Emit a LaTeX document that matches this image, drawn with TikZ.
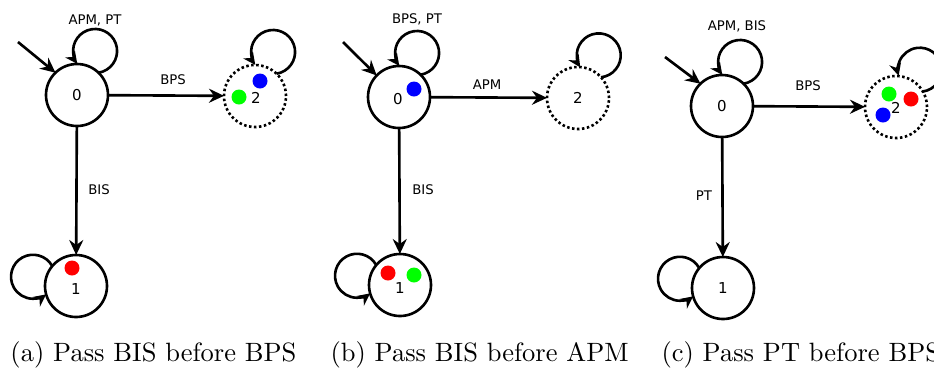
\documentclass[tikz,border=0pt]{standalone}
\usepackage{fontspec}
\newfontfamily\lblfont{DejaVu Sans}
\usetikzlibrary{arrows.meta}
\begin{document}
\begin{tikzpicture}[x=0.4pt,y=0.4pt,
  state/.style={circle,draw,line width=1.05pt,minimum size=24.8pt,inner sep=0pt,outer sep=0pt,font=\lblfont\fontsize{6}{7}\selectfont},
  ghost/.style={state,dash pattern=on 1pt off 1pt},
  edge/.style={line width=1.05pt,-{Stealth[length=6pt,width=5.6pt,inset=2pt]}},
  selfloop/.style={line width=1.05pt,-{Stealth[length=5pt,width=4.8pt,inset=1.7pt]}},
  lbl/.style={font=\lblfont\fontsize{5.3}{6}\selectfont,inner sep=0pt},
  tok/.style={circle,fill=#1,minimum size=6pt,inner sep=0pt,outer sep=0pt},
  captext/.style={anchor=base west,inner sep=0pt,font=\fontsize{10.6}{12.7}\selectfont}]
\definecolor{tokred}{RGB}{255,0,0}
\definecolor{tokgreen}{RGB}{0,255,0}
\definecolor{tokblue}{RGB}{0,0,255}
\useasboundingbox (0,0) rectangle (934,-369);

% ---------------- (a) ----------------
\node[state] (a0) at (77,-95) {0};
\node[ghost] (a2) at (255,-96) {};
\node[state] (a1) at (76,-286) {};
\node[lbl] (a2n) at (256,-98) {\fontsize{6}{7}\selectfont 2};
\node[lbl] (a1n) at (76,-289) {\fontsize{6}{7}\selectfont 1};
\node[tok=tokgreen] (a2g) at (239,-97) {};
\node[tok=tokblue] (a2b) at (260,-81) {};
\node[tok=tokred] (a1r) at (72,-268) {};
\coordinate (a0s) at (18,-42);
\draw[edge] (a0s) -- (a0.134);
\draw[selfloop] (a0.46) arc[start angle=-81,end angle=216,radius=22];
\draw[selfloop] (a2.46) arc[start angle=-81,end angle=216,radius=22];
\draw[selfloop] (a1.140) arc[start angle=29,end angle=307,radius=22];
\draw[edge] (a0) -- (a2);
\draw[edge] (a0) -- (a1);
\node[lbl] (la0) at (95,-20) {APM, PT};
\node[lbl] (la02) at (173,-80) {BPS};
\node[lbl] (la01) at (99,-190) {BIS};
\node[captext] (capa) at (10,-361) {(a) Pass BIS before BPS};

% ---------------- (b) ----------------
\node[state] (b0) at (399,-97) {};
\node[ghost] (b2) at (578,-98) {2};
\node[state] (b1) at (400,-285) {};
\node[lbl] (b0n) at (398,-99) {\fontsize{6}{7}\selectfont 0};
\node[lbl] (b1n) at (400,-288) {\fontsize{6}{7}\selectfont 1};
\node[tok=tokblue] (b0b) at (414,-89) {};
\node[tok=tokred] (b1r) at (388,-273) {};
\node[tok=tokgreen] (b1g) at (414,-275) {};
\coordinate (b0s) at (343,-42);
\draw[edge] (b0s) -- (b0.136);
\draw[selfloop] (b0.46) arc[start angle=-81,end angle=216,radius=22];
\draw[selfloop] (b2.42) arc[start angle=-84,end angle=213,radius=22];
\draw[selfloop] (b1.140) arc[start angle=29,end angle=307,radius=22];
\draw[edge] (b0) -- (b2);
\draw[edge] (b0) -- (b1);
\node[lbl] (lb0) at (417,-19) {BPS, PT};
\node[lbl] (lb02) at (487,-85) {APM};
\node[lbl] (lb01) at (423,-190) {BIS};
\node[captext] (capb) at (330,-361) {(b) Pass BIS before APM};

% ---------------- (c) ----------------
\node[state] (c0) at (722,-106) {0};
\node[ghost] (c2) at (896,-107) {};
\node[state] (c1) at (723,-288) {1};
\node[lbl] (c2n) at (896,-108) {\fontsize{6}{7}\selectfont 2};
\node[tok=tokgreen] (c2g) at (889,-94) {};
\node[tok=tokred] (c2r) at (911,-99) {};
\node[tok=tokblue] (c2b) at (883,-115) {};
\coordinate (c0s) at (665,-57);
\draw[edge] (c0s) -- (c0.134);
\draw[selfloop] (c0.46) arc[start angle=-81,end angle=216,radius=22];
\draw[selfloop] (c2.30) arc[start angle=-82,end angle=196,radius=22];
\draw[selfloop] (c1.140) arc[start angle=29,end angle=307,radius=22];
\draw[edge] (c0) -- (c2);
\draw[edge] (c0) -- (c1);
\node[lbl] (lc0) at (737,-26) {APM, BIS};
\node[lbl] (lc02) at (808,-86) {BPS};
\node[lbl] (lc01) at (704,-196) {PT};
\node[captext] (capc) at (661,-361) {(c) Pass PT before BPS};
\end{tikzpicture}
\end{document}
